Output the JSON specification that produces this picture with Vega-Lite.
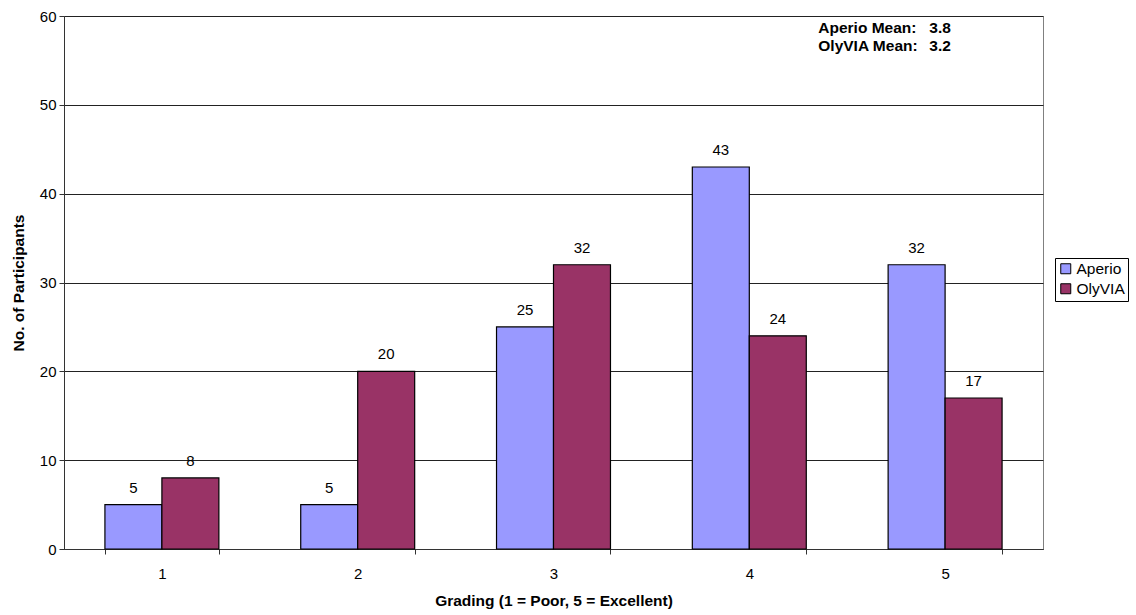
{
  "$schema": "https://vega.github.io/schema/vega-lite/v6.json",
  "width": 979,
  "height": 533,
  "autosize": {"type": "none"},
  "padding": {"left": 64, "top": 16, "right": 93, "bottom": 66},
  "background": "white",
  "config": {
    "font": "Liberation Sans",
    "view": {"stroke": "#808080", "strokeWidth": 1}
  },
  "datasets": {
    "bars": [
      {"grade": "1", "viewer": "Aperio", "count": 5},
      {"grade": "1", "viewer": "OlyVIA", "count": 8},
      {"grade": "2", "viewer": "Aperio", "count": 5},
      {"grade": "2", "viewer": "OlyVIA", "count": 20},
      {"grade": "3", "viewer": "Aperio", "count": 25},
      {"grade": "3", "viewer": "OlyVIA", "count": 32},
      {"grade": "4", "viewer": "Aperio", "count": 43},
      {"grade": "4", "viewer": "OlyVIA", "count": 24},
      {"grade": "5", "viewer": "Aperio", "count": 32},
      {"grade": "5", "viewer": "OlyVIA", "count": 17}
    ],
    "means": [
      {"label": "Aperio Mean:", "value": "3.8", "pos": 58.7, "shift": 0},
      {"label": "OlyVIA Mean:", "value": "3.2", "pos": 56.6, "shift": 2}
    ]
  },
  "layer": [
    {
      "data": {"name": "bars"},
      "mark": {"type": "bar", "stroke": "black", "strokeWidth": 1.2},
      "encoding": {
        "x": {
          "field": "grade", "type": "nominal",
          "scale": {"paddingInner": 0.418, "paddingOuter": 0.209},
          "axis": {
            "title": "Grading (1 = Poor, 5 = Excellent)",
            "titleFontSize": 15.5, "titleFontWeight": "bold", "titleColor": "black",
            "titlePadding": 12,
            "labelAngle": 0, "labelFontSize": 15, "labelColor": "black", "labelPadding": 12,
            "domainColor": "#333", "tickColor": "#333", "tickBand": "extent", "tickSize": 5
          }
        },
        "xOffset": {"field": "viewer", "type": "nominal", "scale": {"paddingInner": 0, "paddingOuter": 0}},
        "y": {
          "field": "count", "type": "quantitative",
          "scale": {"domain": [0, 60]},
          "axis": {
            "title": "No. of Participants",
            "values": [0, 10, 20, 30, 40, 50, 60],
            "titleFontSize": 15.5, "titleFontWeight": "bold", "titleColor": "black",
            "titlePadding": 13,
            "labelFontSize": 15, "labelColor": "black", "labelPadding": 3,
            "domainColor": "#333", "tickColor": "#333", "tickSize": 5,
            "grid": true, "gridColor": "#222", "gridWidth": 1
          }
        },
        "color": {
          "field": "viewer", "type": "nominal",
          "scale": {"domain": ["Aperio", "OlyVIA"], "range": ["#9999FF", "#993366"]},
          "legend": {
            "title": null, "orient": "none", "legendX": 991, "legendY": 242,
            "strokeColor": "black", "padding": 3, "fillColor": "white",
            "symbolType": "square", "symbolSize": 100, "symbolStrokeColor": "black", "symbolStrokeWidth": 1,
            "labelFontSize": 15.5, "labelColor": "black", "rowPadding": 3, "labelOffset": 3
          }
        }
      }
    },
    {
      "data": {"name": "bars"},
      "mark": {"type": "text", "dy": -17, "fontSize": 15, "color": "black"},
      "encoding": {
        "x": {"field": "grade", "type": "nominal"},
        "xOffset": {"field": "viewer", "type": "nominal"},
        "y": {"field": "count", "type": "quantitative"},
        "text": {"field": "count", "type": "quantitative"}
      }
    },
    {
      "data": {"name": "means"},
      "mark": {"type": "text", "align": "left", "dx": 69, "fontSize": 15.5, "fontWeight": "bold", "color": "black"},
      "encoding": {
        "x": {"datum": "4"},
        "y": {"field": "pos", "type": "quantitative"},
        "text": {"field": "label"}
      }
    },
    {
      "data": {"name": "means"},
      "mark": {"type": "text", "align": "left", "dx": 180, "fontSize": 15.5, "fontWeight": "bold", "color": "black"},
      "encoding": {
        "x": {"datum": "4"},
        "y": {"field": "pos", "type": "quantitative"},
        "text": {"field": "value"}
      }
    }
  ]
}
